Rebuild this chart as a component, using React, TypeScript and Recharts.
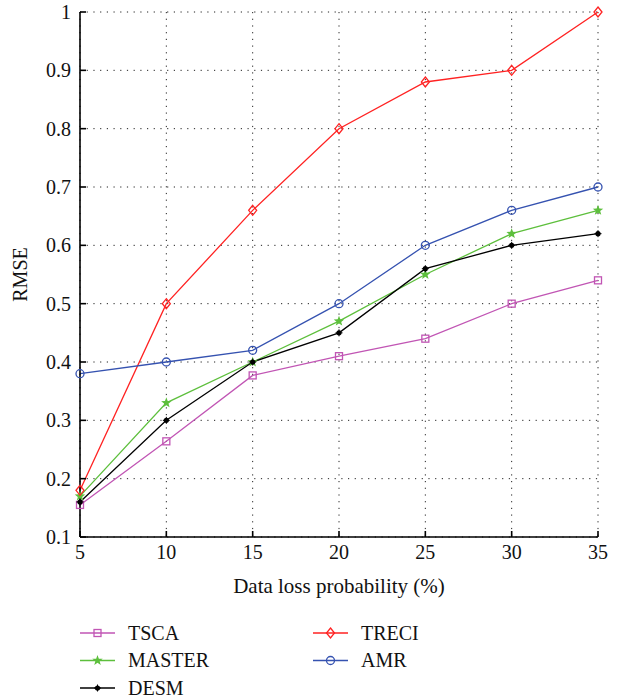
import {
  LineChart,
  Line,
  XAxis,
  YAxis,
  CartesianGrid,
  Legend,
  Label,
} from 'recharts';

const probability = [5, 10, 15, 20, 25, 30, 35];
const tsca = [0.155, 0.264, 0.377, 0.41, 0.44, 0.5, 0.54];
const master = [0.17, 0.33, 0.4, 0.47, 0.55, 0.62, 0.66];
const desm = [0.16, 0.3, 0.4, 0.45, 0.56, 0.6, 0.62];
const treci = [0.18, 0.5, 0.66, 0.8, 0.88, 0.9, 1.0];
const amr = [0.38, 0.4, 0.42, 0.5, 0.6, 0.66, 0.7];

const xTicks = [5, 10, 15, 20, 25, 30, 35];
const yTicks = [0.1, 0.2, 0.3, 0.4, 0.5, 0.6, 0.7, 0.8, 0.9, 1];

const data = probability.map((p, i) => ({
  p,
  TSCA: tsca[i],
  MASTER: master[i],
  DESM: desm[i],
  TRECI: treci[i],
  AMR: amr[i],
}));

const FONT = '"Liberation Serif", serif';

type Marker = 'square' | 'star' | 'dot' | 'diamond' | 'circle';

function drawMarker(kind: Marker, x: number, y: number, color: string, key?: string) {
  if (kind === 'square')
    return <rect key={key} x={x - 3.5} y={y - 3.5} width={7} height={7} fill="none" stroke={color} strokeWidth={1.3} />;
  if (kind === 'circle')
    return <circle key={key} cx={x} cy={y} r={4} fill="none" stroke={color} strokeWidth={1.3} />;
  if (kind === 'diamond')
    return (
      <path key={key} d={`M${x},${y - 5}L${x + 4},${y}L${x},${y + 5}L${x - 4},${y}Z`} fill="none" stroke={color} strokeWidth={1.3} />
    );
  if (kind === 'dot')
    return (
      <g key={key}>
        <circle cx={x} cy={y} r={2.6} fill={color} />
        <path d={`M${x - 3.5},${y}H${x + 3.5}M${x},${y - 3.5}V${y + 3.5}`} stroke={color} strokeWidth={1} />
      </g>
    );
  const pts: string[] = [];
  for (let k = 0; k < 10; k++) {
    const r = k % 2 === 0 ? 5.5 : 2.3;
    const a = -Math.PI / 2 + (k * Math.PI) / 5;
    pts.push(`${x + r * Math.cos(a)},${y + r * Math.sin(a)}`);
  }
  return <polygon key={key} points={pts.join(' ')} fill={color} />;
}

const series: { key: string; color: string; marker: Marker }[] = [
  { key: 'TSCA', color: '#c155b4', marker: 'square' },
  { key: 'MASTER', color: '#5dbf3c', marker: 'star' },
  { key: 'DESM', color: '#000000', marker: 'dot' },
  { key: 'TRECI', color: '#ff2222', marker: 'diamond' },
  { key: 'AMR', color: '#3552b0', marker: 'circle' },
];

function LegendBox() {
  const cols = [
    ['TSCA', 'MASTER', 'DESM'],
    ['TRECI', 'AMR'],
  ];
  const colX = [80, 313];
  return (
    <svg width={620} height={80} style={{ display: 'block' }}>
      {cols.map((col, ci) =>
        col.map((name, ri) => {
          const s = series.find((q) => q.key === name)!;
          const x = colX[ci];
          const y = 12 + ri * 27.5;
          return (
            <g key={name}>
              <line x1={x} x2={x + 35} y1={y} y2={y} stroke={s.color} strokeWidth={1.3} />
              {drawMarker(s.marker, x + 17.5, y, s.color)}
              <text x={x + 48} y={y + 6.5} fontFamily={FONT} fontSize={20} fill="#111">
                {name}
              </text>
            </g>
          );
        })
      )}
    </svg>
  );
}

export default function App() {
  return (
    <div style={{ position: 'absolute', left: 0, top: 0, width: 620, height: 697, fontFamily: FONT }}>
      <LineChart
        width={620}
        height={697}
        data={data}
        margin={{ top: 12, right: 22, bottom: 120, left: 0 }}
        style={{ fontFamily: FONT }}
      >
        <CartesianGrid
          stroke="#222"
          strokeDasharray="1.2 5.5"
          strokeWidth={1}
          horizontalValues={yTicks}
          verticalValues={xTicks}
        />
        <XAxis
          dataKey="p"
          type="number"
          domain={[5, 35]}
          ticks={xTicks}
          height={40}
          tickSize={-6}
          tickMargin={14}
          stroke="#000"
          strokeWidth={1.6}
          tick={{ fill: '#111', fontSize: 20, fontFamily: FONT }}
        >
          <Label
            value="Data loss probability (%)"
            position="bottom"
            offset={1}
            style={{ fill: '#111', fontSize: 21, fontFamily: FONT }}
          />
        </XAxis>
        <XAxis
          xAxisId="top"
          orientation="top"
          dataKey="p"
          type="number"
          domain={[5, 35]}
          ticks={xTicks}
          height={0}
          tickSize={-6}
          tickFormatter={() => ''}
          stroke="#000"
          strokeWidth={1.6}
        />
        <YAxis
          type="number"
          domain={[0.1, 1]}
          ticks={yTicks}
          width={80}
          tickSize={-6}
          tickMargin={15}
          stroke="#000"
          strokeWidth={1.6}
          tickFormatter={(v: number) => String(Math.round(v * 10) / 10)}
          tick={{ fill: '#111', fontSize: 20, fontFamily: FONT }}
        >
          <Label
            value="RMSE"
            angle={-90}
            position="insideLeft"
            offset={20}
            style={{ fill: '#111', fontSize: 20, fontFamily: FONT, textAnchor: 'middle' }}
          />
        </YAxis>
        <YAxis
          yAxisId="right"
          orientation="right"
          type="number"
          domain={[0.1, 1]}
          ticks={yTicks}
          width={0}
          tickSize={-6}
          tickFormatter={() => ''}
          stroke="#000"
          strokeWidth={1.6}
        />
        {series.map((s) => (
          <Line
            key={s.key}
            dataKey={s.key}
            stroke={s.color}
            strokeWidth={1.3}
            isAnimationActive={false}
            dot={(props: any) => drawMarker(s.marker, props.cx, props.cy, s.color, `${s.key}-${props.index}`)}
            activeDot={false}
          />
        ))}
        <Legend
          layout="vertical"
          verticalAlign="middle"
          align="center"
          content={() => <LegendBox />}
          wrapperStyle={{ position: 'absolute', top: 621, left: 0, width: 620 }}
        />
      </LineChart>
    </div>
  );
}
